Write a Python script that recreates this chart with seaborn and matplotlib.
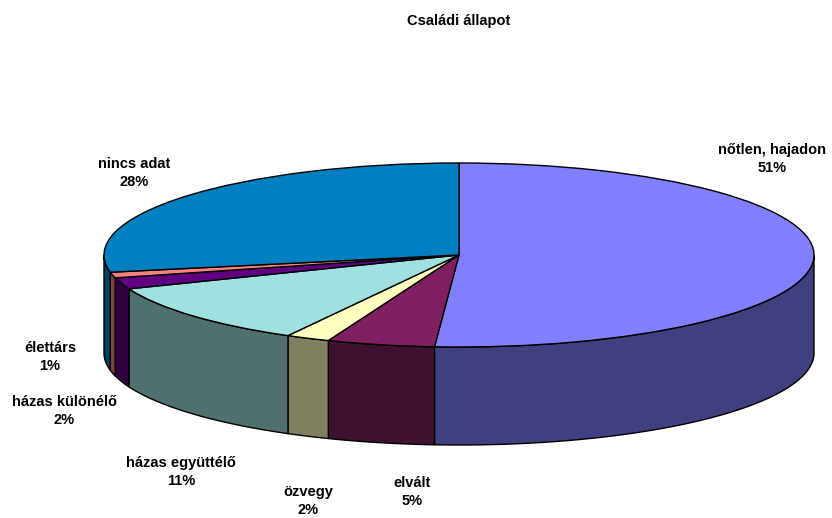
import numpy as np
import matplotlib
matplotlib.use("Agg")
import matplotlib.pyplot as plt
import seaborn as sns

# === Data ===
categories = ["nőtlen, hajadon", "elvált", "özvegy", "házas együttélő",
              "házas különélő", "élettárs", "nincs adat"]
percent = [51.1, 4.9, 2, 11, 2, 1, 28]

# === Style ===
top_colors = ["#8080FF", "#802060", "#FFFFC0", "#A0E0E0", "#600080", "#FF8080", "#0080C0"]
side_colors = ["#404080", "#401030", "#808060", "#507070", "#300040", "#804040", "#004060"]
label_pos = [(772, 159), (412, 492), (308, 501), (181, 472), (64, 411), (50, 357), (134, 173)]

W, H = 832, 518
CX, CY = 459, 255     # pie centre, px
RX, RY = 355, 92      # ellipse radii, px
DEPTH = 98 / RY       # wall height in axis units

sns.set_theme(style="white")
plt.rcParams["font.family"] = ["Liberation Sans", "DejaVu Sans"]

fig = plt.figure(figsize=(W / 100, H / 100), dpi=100)
ax = fig.add_axes([0, 0, 1, 1])

wedges, _ = ax.pie(percent, colors=sns.color_palette(top_colors), startangle=90,
                   counterclock=False, radius=1,
                   wedgeprops={"edgecolor": "black", "linewidth": 1.0, "zorder": 3})

# squash the pie into an ellipse
ax.set_aspect("auto")
ax.set_xlim(-CX / RX, (W - CX) / RX)
ax.set_ylim(-(H - CY) / RY, CY / RY)
ax.axis("off")

# side walls, only the front half of the rim is visible
for w, col in zip(wedges, sns.color_palette(side_colors)):
    a1, a2 = w.theta1 % 360, w.theta2 % 360
    if a2 <= a1:
        a2 += 360
    a_lo, a_hi = max(a1, 180), min(a2, 360)
    if a_hi <= a_lo:
        continue
    t = np.radians(np.linspace(a_lo, a_hi, 80))
    xs = np.cos(t)
    ys = np.sin(t)
    ax.fill(np.r_[xs, xs[::-1]], np.r_[ys, ys[::-1] - DEPTH],
            facecolor=col, edgecolor="black", linewidth=1.0, zorder=2)

for name, pct, (px, py) in zip(categories, percent, label_pos):
    ax.text((px - CX) / RX, (CY - py) / RY, f"{name}\n{pct:.0f}%", ha="center", va="center",
            fontsize=10.5, fontweight="bold", color="black", linespacing=1.45, zorder=5)

ax.text(0, (CY - 21) / RY, "Családi állapot", ha="center", va="center",
        fontsize=10.5, fontweight="bold", color="black", zorder=5)

fig.savefig("out.png", dpi=100, facecolor="white")
